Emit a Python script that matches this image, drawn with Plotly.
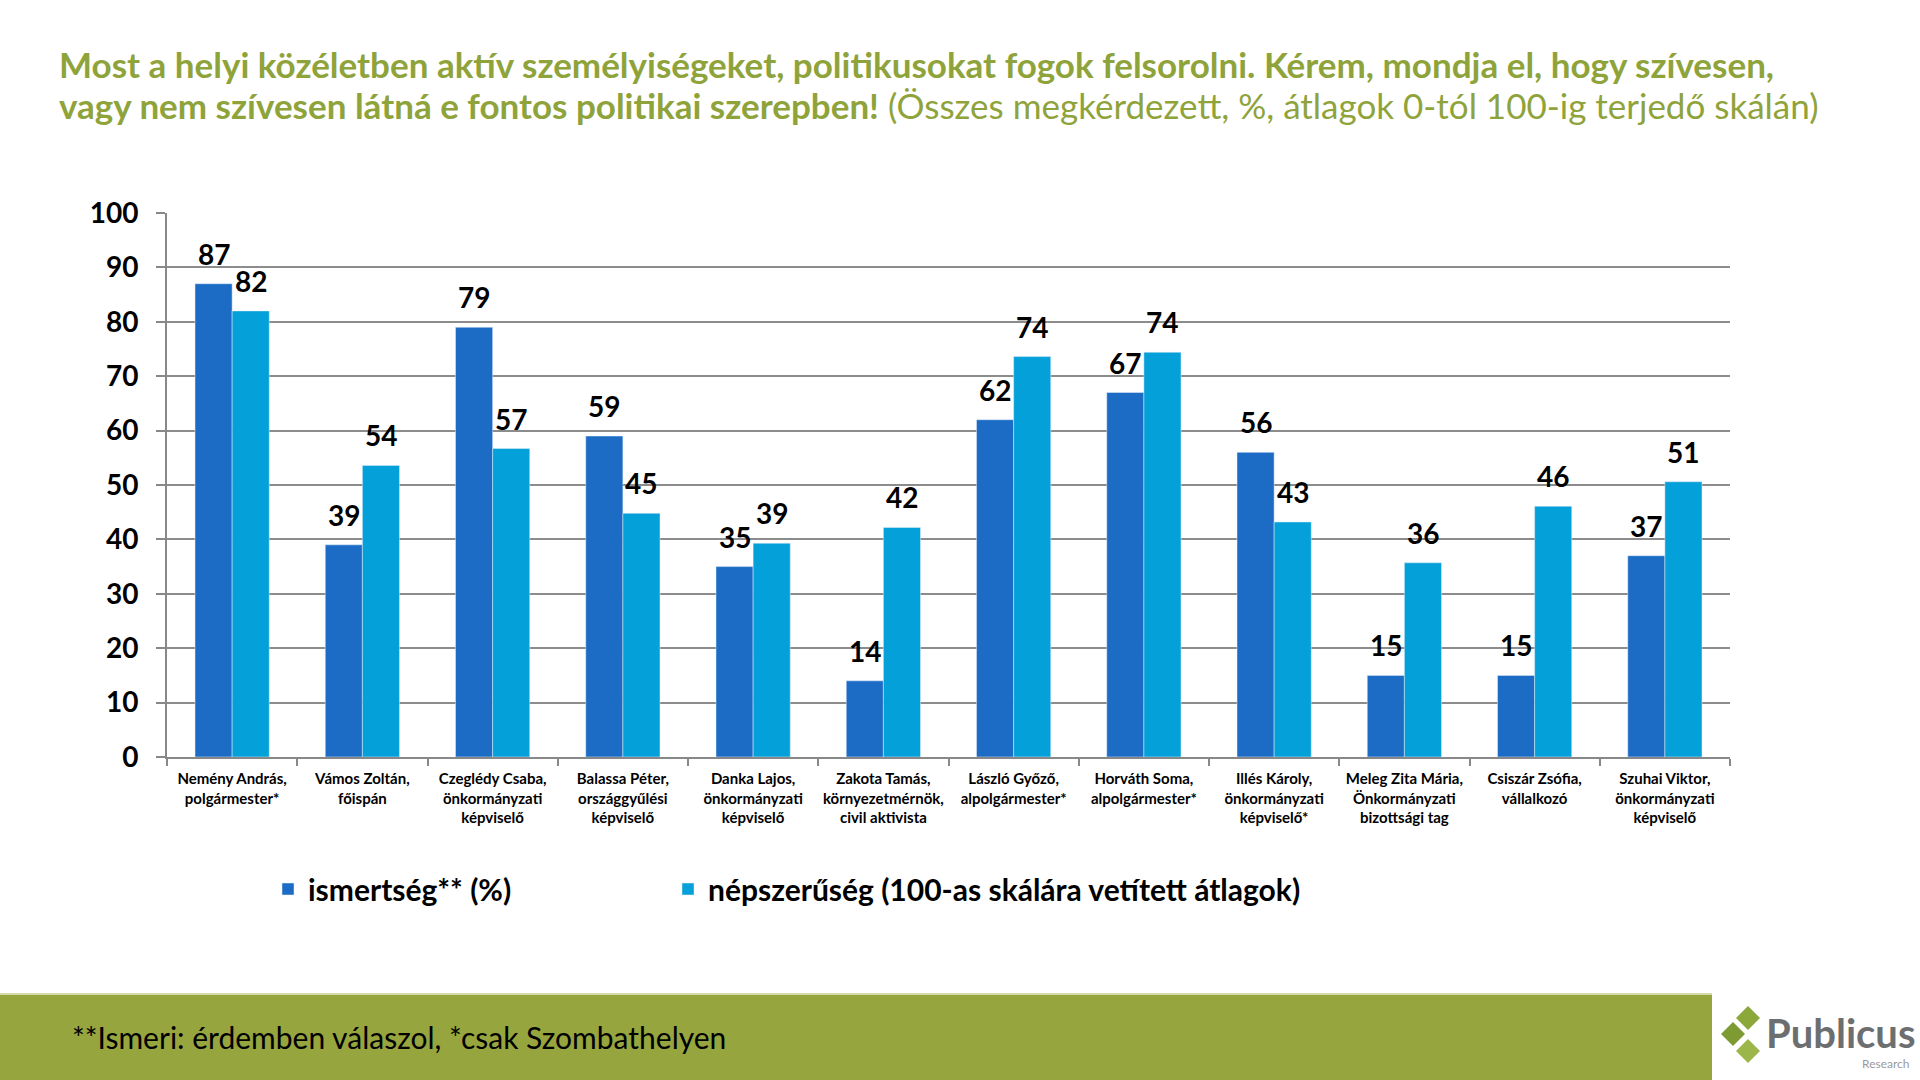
import plotly.graph_objects as go

categories = [
    "Nemény András,<br>polgármester*",
    "Vámos Zoltán,<br>főispán",
    "Czeglédy Csaba,<br>önkormányzati<br>képviselő",
    "Balassa Péter,<br>országgyűlési<br>képviselő",
    "Danka Lajos,<br>önkormányzati<br>képviselő",
    "Zakota Tamás,<br>környezetmérnök,<br>civil aktivista",
    "László Győző,<br>alpolgármester*",
    "Horváth Soma,<br>alpolgármester*",
    "Illés Károly,<br>önkormányzati<br>képviselő*",
    "Meleg Zita Mária,<br>Önkormányzati<br>bizottsági tag",
    "Csiszár Zsófia,<br>vállalkozó",
    "Szuhai Viktor,<br>önkormányzati<br>képviselő",
]
ismertseg = [87, 39, 79, 59, 35, 14, 62, 67, 56, 15, 15, 37]
nepszeruseg = [82, 53.6, 56.7, 44.8, 39.3, 42.2, 73.6, 74.4, 43.2, 35.7, 46.1, 50.6]
series_names = ["ismertség** (%)", "népszerűség (100-as skálára vetített átlagok)"]
y_ticks = [0, 10, 20, 30, 40, 50, 60, 70, 80, 90, 100]

W, H = 1920, 1080
L, R, T, B = 167, 1730, 213, 757
PW, PH = R - L, B - T
BARGAP = 0.43

def px(x):
    return (x - L) / PW

def py(y):
    return (B - y) / PH

FONT = "Lato"
DARK = "#1C6CC6"
LIGHT = "#04A0D9"
GREEN = "#8FA33B"
BAND = "#97A53E"

fig = go.Figure()
fig.add_trace(go.Bar(
    x=categories, y=ismertseg, name=series_names[0], marker_color=DARK,
    legend="legend",
))
fig.add_trace(go.Bar(
    x=categories, y=nepszeruseg, name=series_names[1], marker_color=LIGHT,
    legend="legend2",
))

legend_common = dict(
    orientation="h", yanchor="middle", xanchor="left",
    font=dict(size=30, family=FONT, color="black", weight="bold"),
    itemclick=False, bgcolor="rgba(0,0,0,0)",
)
fig.update_layout(
    width=W, height=H,
    margin=dict(l=L, r=W - R, t=T, b=H - B, pad=0),
    paper_bgcolor="white", plot_bgcolor="white",
    barmode="group", bargap=BARGAP, bargroupgap=0,
    font=dict(family=FONT, color="black"),
    showlegend=True,
    legend=dict(x=px(268), y=py(889), **legend_common),
    legend2=dict(x=px(668), y=py(889), **legend_common),
)
fig.update_xaxes(
    showline=True, linecolor="#888888", linewidth=2,
    ticks="outside", tickson="boundaries", ticklen=7, tickcolor="#888888", tickwidth=2,
    tickfont=dict(size=15, family=FONT, color="black", weight="bold"),
    tickangle=0, showgrid=False, ticklabelstandoff=7,
)
fig.update_yaxes(
    range=[0, 100], tickvals=y_ticks, showline=True, linecolor="#888888", linewidth=2,
    ticks="outside", ticklen=9, tickcolor="#888888", tickwidth=2,
    showgrid=True, gridcolor="#8C8C8C", gridwidth=1.5,
    tickfont=dict(size=28, family=FONT, color="black", weight="bold"),
    zeroline=False, ticklabelstandoff=12,
)

# value labels, placed at each bar's data position through the axes
half_bar = PW / len(categories) * (1 - BARGAP) / 4
annotations = []
for series, sgn in ((ismertseg, -1), (nepszeruseg, 1)):
    for cat, v in zip(categories, series):
        annotations.append(dict(
            x=cat, y=v, xref="x", yref="y", text=f"<b>{v:.0f}</b>",
            showarrow=False, xanchor="center", yanchor="middle",
            xshift=sgn * half_bar, yshift=30,
            font=dict(size=28, color="black", family=FONT),
        ))

texts = [
    dict(text="<b>Most a helyi közéletben aktív személyiségeket, politikusokat fogok felsorolni. Kérem, mondja el, hogy szívesen,</b>",
         x=px(57), y=py(64), xanchor="left", yanchor="middle",
         font=dict(size=35, color=GREEN, family=FONT)),
    dict(text="<b>vagy nem szívesen látná e fontos politikai szerepben!</b> (Összes megkérdezett, %, átlagok 0-tól 100-ig terjedő skálán)",
         x=px(57), y=py(105), xanchor="left", yanchor="middle",
         font=dict(size=35, color=GREEN, family=FONT)),
    dict(text="**Ismeri: érdemben válaszol, *csak Szombathelyen",
         x=px(70), y=py(1037), xanchor="left", yanchor="middle",
         font=dict(size=30, color="black", family=FONT)),
    dict(text="<b>Publicus</b>",
         x=px(1764), y=py(1033), xanchor="left", yanchor="middle",
         font=dict(size=40, color="#6D6E70", family=FONT)),
    dict(text="Research",
         x=px(1912), y=py(1063), xanchor="right", yanchor="middle",
         font=dict(size=12, color="#9A9A9A", family=FONT)),
]
for a in texts:
    a.update(xref="paper", yref="paper", showarrow=False)
fig.update_layout(annotations=annotations + texts)

shapes = [
    dict(type="rect", x0=px(0), x1=px(1712), y0=py(994), y1=py(1080),
         fillcolor=BAND, line=dict(width=0), layer="below"),
    dict(type="line", x0=px(0), x1=px(1712), y0=py(994), y1=py(994),
         line=dict(color="#D4DBA8", width=2)),
]

def diamond(cx, cy, r, color):
    pts = [(cx, cy - r), (cx + r, cy), (cx, cy + r), (cx - r, cy)]
    path = "M " + " L ".join(f"{px(x)},{py(y)}" for x, y in pts) + " Z"
    return dict(type="path", path=path, fillcolor=color, line=dict(width=0))

shapes += [
    diamond(1748, 1018, 12, "#8CA83A"),
    diamond(1733, 1034, 12, "#7D9A33"),
    diamond(1748, 1051, 12, "#9DB64A"),
]
for s in shapes:
    s["xref"] = "paper"
    s["yref"] = "paper"
fig.update_layout(shapes=shapes)

fig.write_html("out.html")
